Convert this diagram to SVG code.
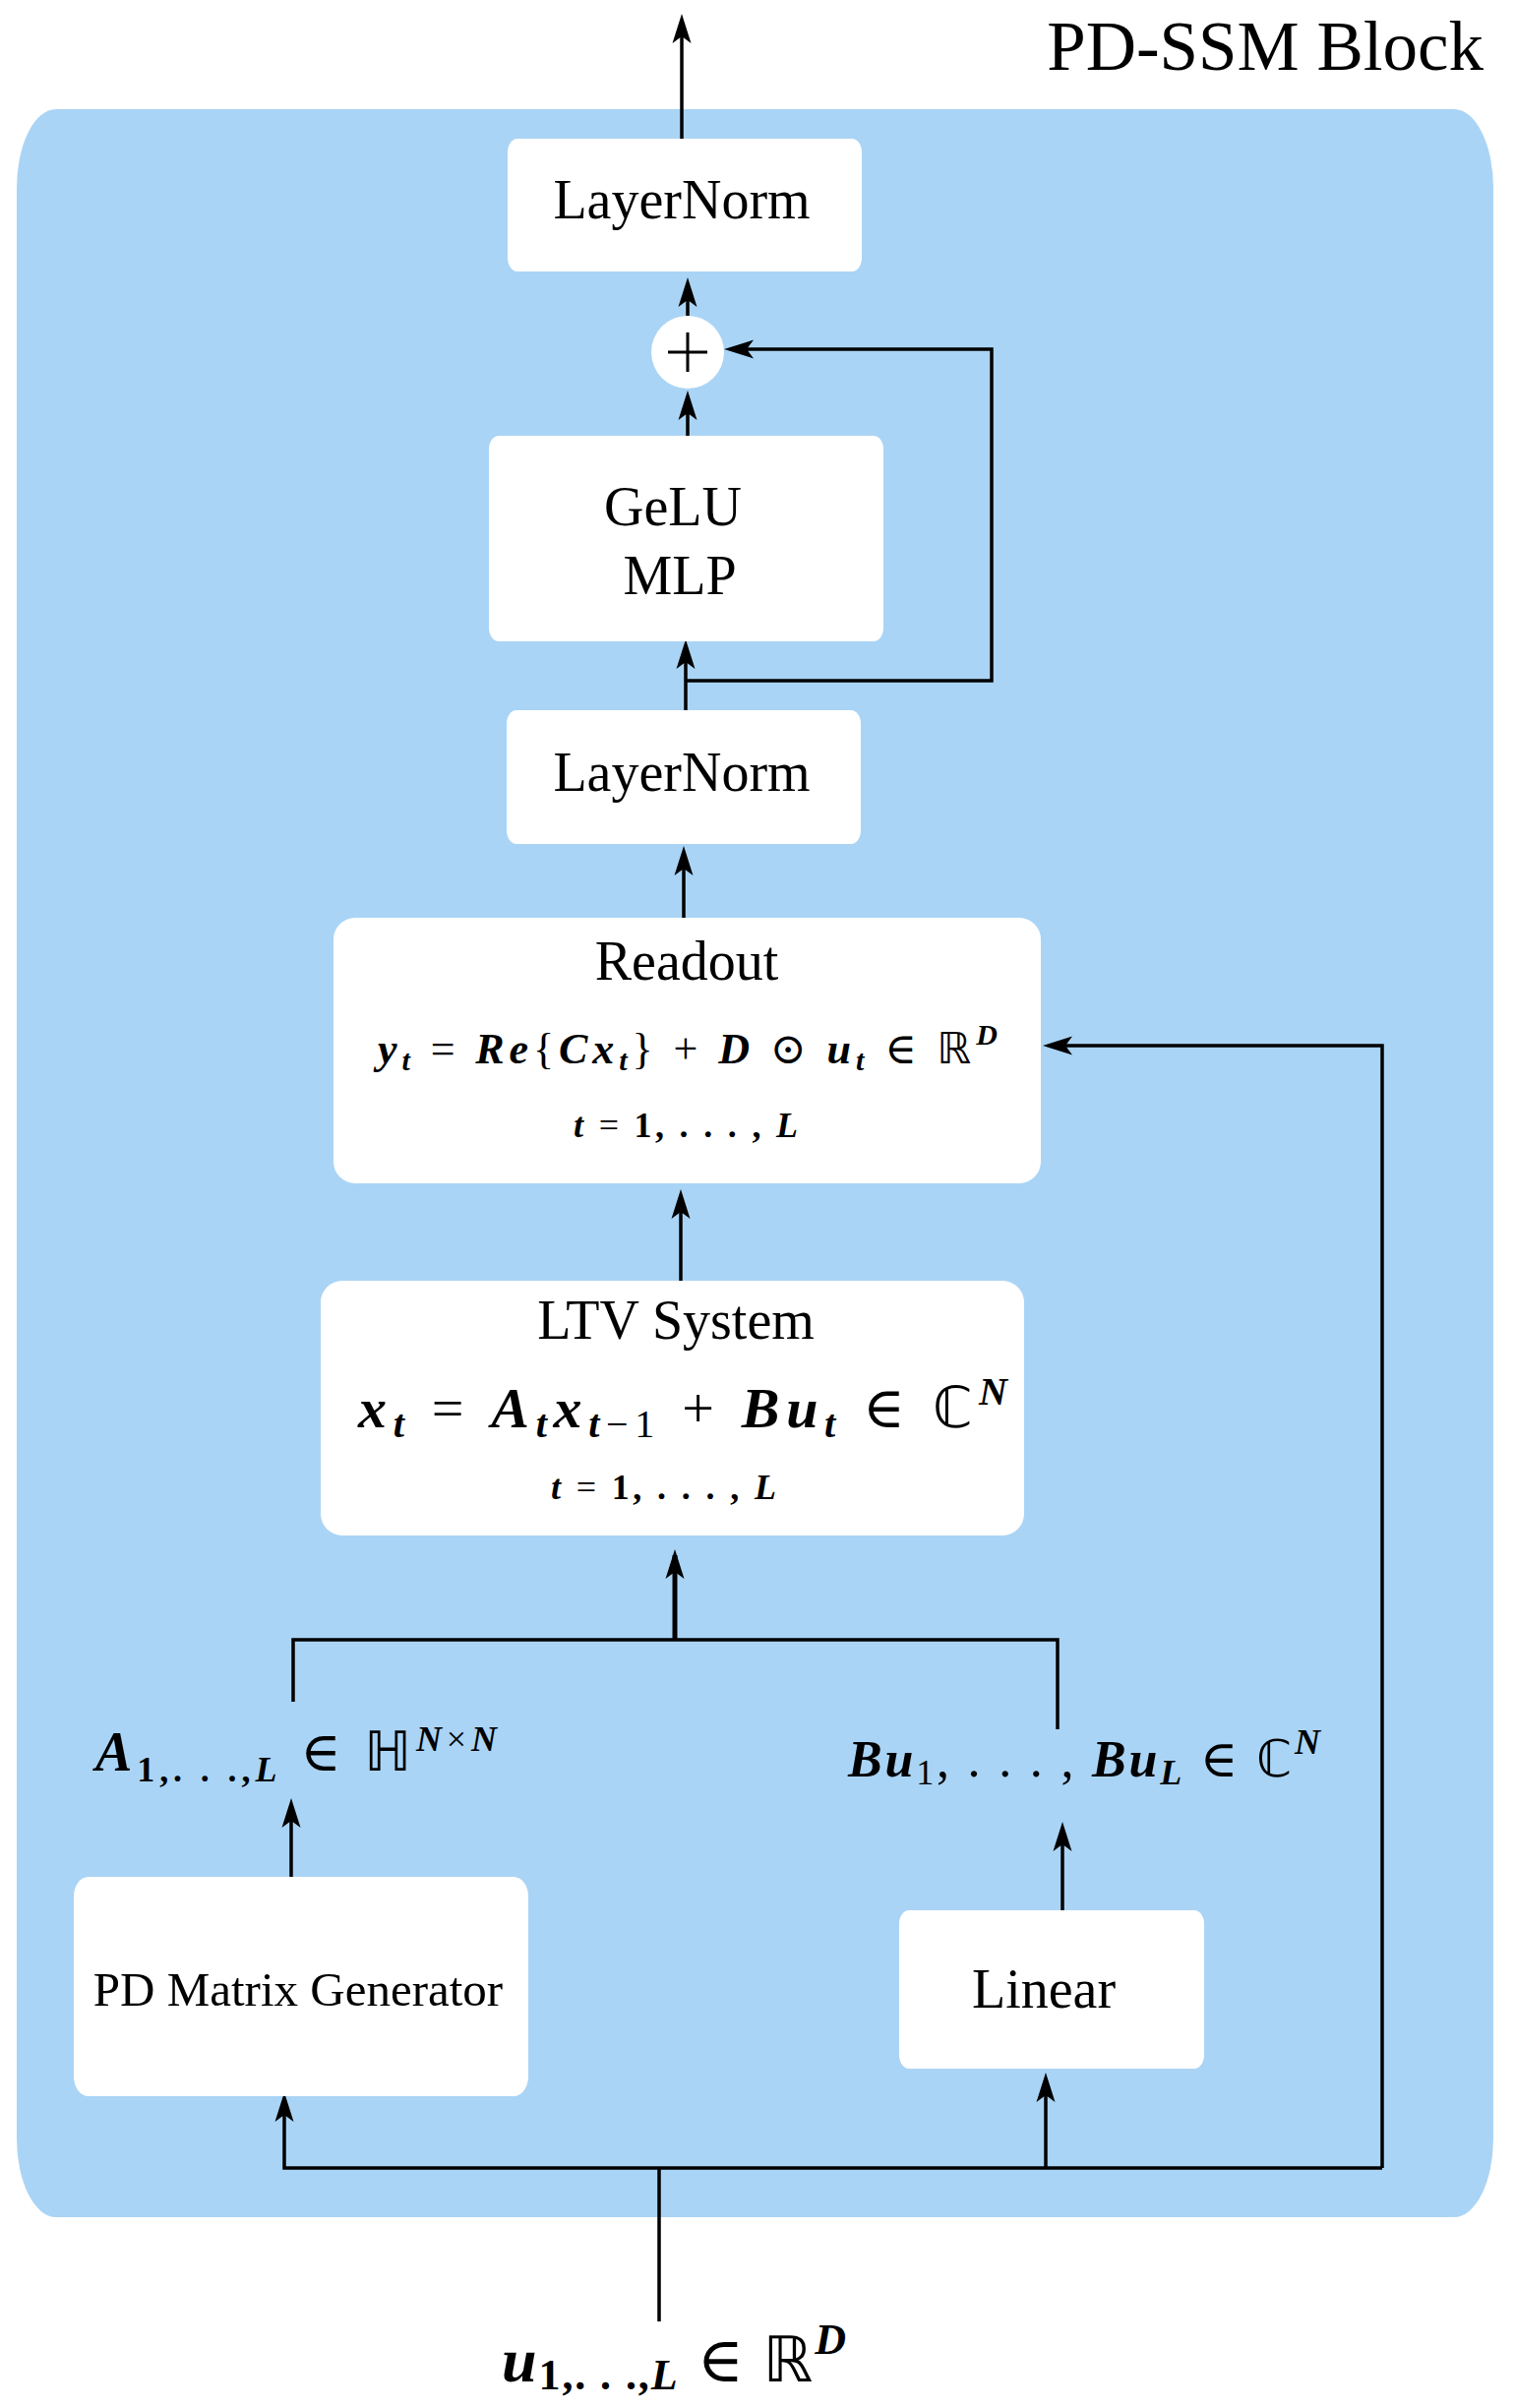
<svg xmlns="http://www.w3.org/2000/svg" width="1540" height="2448" viewBox="0 0 1540 2448">
<defs>
<style>
.lbl{font-family:"Liberation Serif","Times New Roman",serif;fill:#000;text-anchor:middle}
.m{font-family:"Liberation Serif","DejaVu Serif",serif;fill:#000}
.v{font-style:italic;font-weight:bold}
.n{font-weight:bold}
.bb{font-family:"DejaVu Sans",sans-serif;font-style:normal;font-weight:normal}
.box{fill:#ffffff}
.c{fill:none;stroke:#000;stroke-width:3.5}
.a{marker-end:url(#ah)}
</style>
<marker id="ah" markerUnits="userSpaceOnUse" viewBox="-26 -11 34 22" markerWidth="34" markerHeight="22" refX="0" refY="0" orient="auto">
<path d="M6,0 L-24,-9.5 L-17,0 L-24,9.5 Z" fill="#000"/>
</marker>
</defs>
<rect width="1540" height="2448" fill="#ffffff"/>
<g id="block">
<rect x="17" y="111" width="1501" height="2143" rx="40" ry="80" fill="#aad4f5"/>
<text class="lbl" x="1508" y="71" font-size="71" style="text-anchor:end">PD-SSM Block</text>
</g>
<g id="connectors">
<line class="c a" x1="693" y1="141" x2="693" y2="20"/>
<line class="c a" x1="699" y1="321" x2="699" y2="288"/>
<line class="c a" x1="699" y1="443" x2="699" y2="403"/>
<line class="c a" x1="697" y1="722" x2="697" y2="656"/>
<polyline class="c a" points="697,692 1008,692 1008,355 742,355"/>
<line class="c a" x1="695" y1="933" x2="695" y2="866"/>
<line class="c a" x1="692" y1="1302" x2="692" y2="1215"/>
<line class="c a" x1="686" y1="1667" x2="686" y2="1581" style="stroke-width:5"/>
<polyline class="c" points="298,1730 298,1667 1075,1667 1075,1758"/>
<line class="c a" x1="296" y1="1908" x2="296" y2="1834"/>
<line class="c a" x1="1080" y1="1942" x2="1080" y2="1858"/>
<line class="c" x1="670" y1="2360" x2="670" y2="2204"/>
<polyline class="c a" points="1405,2204 289,2204 289,2133"/>
<line class="c a" x1="1063" y1="2204" x2="1063" y2="2113"/>
<polyline class="c a" points="1405,2204 1405,1063 1066,1063"/>
</g>
<g id="layernorm-top">
<rect class="box" x="516" y="141" width="360" height="135" rx="10" ry="14"/>
<text class="lbl" x="693" y="222" font-size="56">LayerNorm</text>
</g>
<g id="sum">
<circle cx="699" cy="358" r="37" fill="#fff"/>
<path d="M679,358 H719 M699,338 V378" stroke="#000" stroke-width="3"/>
</g>
<g id="gelu-mlp">
<rect class="box" x="497" y="443" width="401" height="209" rx="10" ry="14"/>
<text class="lbl" x="684" y="534" font-size="56">GeLU</text>
<text class="lbl" x="691" y="604" font-size="56">MLP</text>
</g>
<g id="layernorm-mid">
<rect class="box" x="515" y="722" width="360" height="136" rx="10" ry="14"/>
<text class="lbl" x="693" y="804" font-size="56">LayerNorm</text>
</g>
<g id="readout">
<rect class="box" x="339" y="933" width="719" height="270" rx="22" ry="22"/>
<text class="lbl" x="698" y="996" font-size="56">Readout</text>
<text class="m" x="384" y="1081" font-size="44" textLength="630" lengthAdjust="spacing"><tspan class="v">y</tspan><tspan class="v" font-size="30" dy="7">t</tspan><tspan dy="-7"> = </tspan><tspan class="v">Re</tspan><tspan>{</tspan><tspan class="v">Cx</tspan><tspan class="v" font-size="30" dy="7">t</tspan><tspan dy="-7">} + </tspan><tspan class="v">D</tspan><tspan> ⊙ </tspan><tspan class="v">u</tspan><tspan class="v" font-size="30" dy="7">t</tspan><tspan dy="-7"> ∈ </tspan><tspan class="bb">ℝ</tspan><tspan class="v" font-size="30" dy="-19">D</tspan></text>
<text class="m" x="583" y="1156" font-size="36" textLength="228" lengthAdjust="spacing"><tspan class="v">t</tspan><tspan> = </tspan><tspan class="n">1, . . . , </tspan><tspan class="v">L</tspan></text>
</g>
<g id="ltv-system">
<rect class="box" x="326" y="1302" width="715" height="259" rx="22" ry="22"/>
<text class="lbl" x="687" y="1361" font-size="56">LTV System</text>
<text class="m" x="364" y="1451" font-size="58" textLength="660" lengthAdjust="spacing"><tspan class="v">x</tspan><tspan class="v" font-size="40" dy="10">t</tspan><tspan dy="-10"> = </tspan><tspan class="v">A</tspan><tspan class="v" font-size="40" dy="10">t</tspan><tspan class="v" dy="-10">x</tspan><tspan class="v" font-size="40" dy="10">t</tspan><tspan font-size="40">−1</tspan><tspan dy="-10"> + </tspan><tspan class="v">Bu</tspan><tspan class="v" font-size="40" dy="10">t</tspan><tspan dy="-10"> ∈ </tspan><tspan class="bb">ℂ</tspan><tspan class="v" font-size="40" dy="-23">N</tspan></text>
<text class="m" x="560" y="1524" font-size="36" textLength="229" lengthAdjust="spacing"><tspan class="v">t</tspan><tspan> = </tspan><tspan class="n">1, . . . , </tspan><tspan class="v">L</tspan></text>
</g>
<g id="label-a">
<text class="m" x="97" y="1800" font-size="56" textLength="408" lengthAdjust="spacing"><tspan class="v">A</tspan><tspan class="n" font-size="36" dy="11">1,. . .,</tspan><tspan class="v" font-size="36">L</tspan><tspan dy="-11"> ∈ </tspan><tspan class="bb">ℍ</tspan><tspan class="v" font-size="36" dy="-20">N</tspan><tspan font-size="36">×</tspan><tspan class="v" font-size="36">N</tspan></text>
</g>
<g id="label-bu">
<text class="m" x="862" y="1806" font-size="52" textLength="480" lengthAdjust="spacing"><tspan class="v">Bu</tspan><tspan font-size="36" dy="8">1</tspan><tspan dy="-8">, . . . , </tspan><tspan class="v">Bu</tspan><tspan class="v" font-size="36" dy="8">L</tspan><tspan dy="-8"> ∈ </tspan><tspan class="bb">ℂ</tspan><tspan class="v" font-size="36" dy="-23">N</tspan></text>
</g>
<g id="pd-matrix-generator">
<rect class="box" x="75" y="1908" width="462" height="223" rx="15" ry="20"/>
<text class="lbl" x="303" y="2039" font-size="49">PD Matrix Generator</text>
</g>
<g id="linear">
<rect class="box" x="914" y="1942" width="310" height="161" rx="10" ry="14"/>
<text class="lbl" x="1061" y="2041" font-size="56">Linear</text>
</g>
<g id="label-u">
<text class="m" x="510" y="2421" font-size="64" textLength="350" lengthAdjust="spacing"><tspan class="v">u</tspan><tspan class="n" font-size="44" dy="8">1,. . .,</tspan><tspan class="v" font-size="44">L</tspan><tspan dy="-8"> ∈ </tspan><tspan class="bb">ℝ</tspan><tspan class="v" font-size="44" dy="-28">D</tspan></text>
</g>
</svg>
